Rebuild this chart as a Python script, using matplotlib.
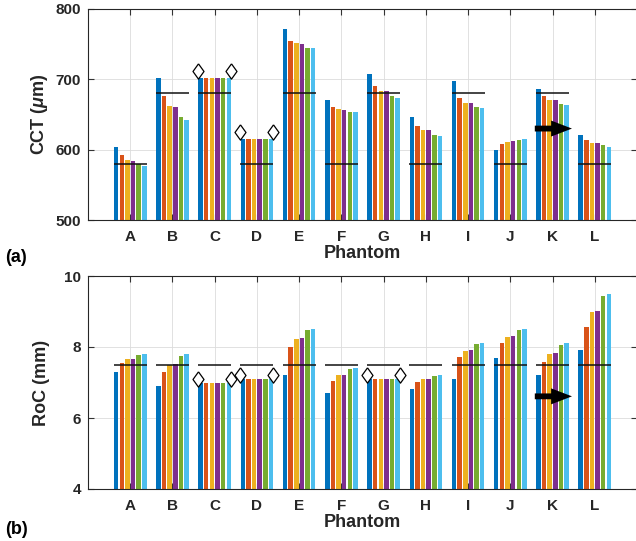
import numpy as np
import matplotlib
matplotlib.use('Agg')
import matplotlib.pyplot as plt

plt.rcParams['font.family'] = ['Liberation Sans', 'DejaVu Sans']
plt.rcParams['font.weight'] = 'bold'
plt.rcParams['mathtext.fontset'] = 'custom'
plt.rcParams['mathtext.it'] = 'Liberation Sans:italic:bold'
plt.rcParams['mathtext.rm'] = 'Liberation Sans:bold'

phantoms = ['A', 'B', 'C', 'D', 'E', 'F', 'G', 'H', 'I', 'J', 'K', 'L']

# CCT (um), six series per phantom
cct_1 = [604, 702, 702, 615, 772, 670, 707, 647, 697, 599, 686, 621]
cct_2 = [592, 676, 702, 615, 755, 661, 690, 634, 673, 608, 677, 614]
cct_3 = [586, 662, 702, 615, 751, 658, 683, 628, 666, 611, 671, 610]
cct_4 = [584, 661, 702, 615, 750, 657, 683, 628, 666, 612, 671, 610]
cct_5 = [580, 647, 702, 615, 745, 654, 676, 621, 660, 614, 665, 606]
cct_6 = [577, 642, 702, 615, 745, 653, 674, 620, 659, 615, 664, 604]
cct_target = [580, 680, 680, 580, 680, 580, 680, 580, 680, 580, 680, 580]

# RoC (mm), six series per phantom
roc_1 = [7.30, 6.91, 7.00, 7.11, 7.20, 6.71, 7.11, 6.81, 7.11, 7.70, 7.21, 7.91]
roc_2 = [7.55, 7.30, 7.00, 7.11, 8.01, 7.05, 7.11, 7.01, 7.72, 8.11, 7.57, 8.55]
roc_3 = [7.67, 7.50, 7.00, 7.11, 8.23, 7.21, 7.11, 7.10, 7.90, 8.28, 7.81, 8.98]
roc_4 = [7.67, 7.51, 7.00, 7.11, 8.26, 7.22, 7.11, 7.11, 7.92, 8.31, 7.83, 9.01]
roc_5 = [7.77, 7.74, 7.00, 7.11, 8.48, 7.38, 7.11, 7.19, 8.08, 8.49, 8.07, 9.44]
roc_6 = [7.80, 7.79, 7.00, 7.11, 8.51, 7.40, 7.11, 7.21, 8.11, 8.52, 8.11, 9.50]
roc_target = [7.5] * 12

# diamond markers (saturated groups) and arrows
cct_marker_cats = ['C', 'D']
cct_marker_vals = [712, 625]
roc_marker_cats = ['C', 'D', 'G']
roc_marker_vals = [7.1, 7.2, 7.2]
cct_arrow = ('K', 630)
roc_arrow = ('K', 6.61)

colors = ['#0072BD', '#D95319', '#EDB120', '#7E2F8E', '#77AC30', '#4DBEEE']

W, H = 636, 541
fig = plt.figure(figsize=(W / 100, H / 100), dpi=100)

def px_axes(l, r, t, b):
    return fig.add_axes([l / W, 1 - b / H, (r - l) / W, (b - t) / H])

ax1 = px_axes(88, 637, 9, 220)
ax2 = px_axes(88, 637, 276, 489)

diamond = [(0, 1), (0.72, 0), (0, -1), (-0.72, 0), (0, 1)]
x = np.arange(1, len(phantoms) + 1)
idx = {p: i + 1 for i, p in enumerate(phantoms)}
nb = 6
gw = 0.8
bw = 0.8 * gw / nb
half = 0.39


def draw(ax, series, target, mcats, mvals, arrow, ylim, yticks, ylabel):
    ax.set_axisbelow(True)
    for j, s in enumerate(series):
        off = -gw / 2 + (2 * j + 1) * gw / (2 * nb)
        ax.bar(x + off, np.array(s) - ylim[0], bottom=ylim[0], width=bw,
               color=colors[j], linewidth=0, zorder=2)
    ax.hlines(target, x - half, x + half, colors='#111111', lw=1.1, zorder=3)
    for c, v in zip(mcats, mvals):
        ax.plot([idx[c] - half, idx[c] + half], [v, v], ls='none', marker=diamond,
                ms=11, mfc='white', mec='black', mew=0.9, zorder=4, clip_on=False)
    ac, av = arrow
    ax.annotate('', xy=(idx[ac] + 0.46, av), xytext=(idx[ac] - 0.42, av),
                arrowprops=dict(arrowstyle='simple,head_length=1.5,head_width=1.15,tail_width=0.42',
                                lw=0, color='black', shrinkA=0, shrinkB=0,
                                mutation_scale=10), zorder=5)
    ax.set_xlim(0, 13)
    ax.set_ylim(*ylim)
    ax.set_yticks(yticks)
    ax.set_xticks(x)
    ax.set_xticklabels(phantoms)
    ax.grid(True, color='#dcdcdc', lw=0.6)
    ax.tick_params(direction='in', top=True, right=True, length=4, width=0.8,
                   color='#333333', labelsize=11, pad=5)
    ax.tick_params(axis='x', pad=7)
    for lab in ax.get_xticklabels() + ax.get_yticklabels():
        lab.set_fontweight('bold')
        lab.set_color('#262626')
    for sp in ax.spines.values():
        sp.set_color('#262626')
        sp.set_linewidth(0.8)
    ax.set_xlabel('Phantom', fontsize=13, fontweight='bold', color='#262626', labelpad=1)
    ax.set_ylabel(ylabel, fontsize=13, fontweight='bold', color='#262626')
    ax.yaxis.set_label_coords(-0.07, 0.5)


draw(ax1, [cct_1, cct_2, cct_3, cct_4, cct_5, cct_6], cct_target,
     cct_marker_cats, cct_marker_vals, cct_arrow, (500, 800), [500, 600, 700, 800],
     r'CCT ($\mu$m)')
draw(ax2, [roc_1, roc_2, roc_3, roc_4, roc_5, roc_6], roc_target,
     roc_marker_cats, roc_marker_vals, roc_arrow, (4, 10), [4, 6, 8, 10],
     'RoC (mm)')

fig.text(5 / W, 1 - 257 / H, '(a)', fontsize=13, fontweight='bold', va='center', ha='left')
fig.text(5 / W, 1 - 529 / H, '(b)', fontsize=13, fontweight='bold', va='center', ha='left')

fig.savefig('out.png', dpi=100)
